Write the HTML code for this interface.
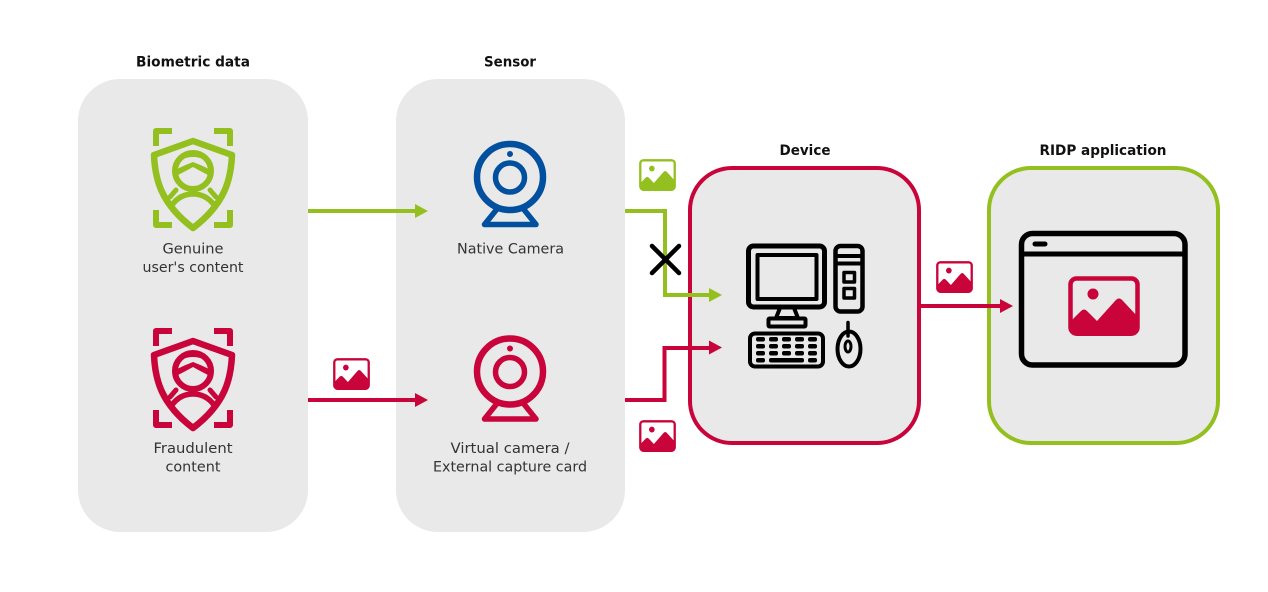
<!DOCTYPE html>
<html>
<head>
<meta charset="utf-8">
<style>
html,body{margin:0;padding:0;background:#fff;width:1268px;height:592px;overflow:hidden}
svg{display:block}
text{font-family:"DejaVu Sans",sans-serif;font-size:14.5px;fill:#333;text-anchor:middle}
text.b{font-weight:bold;fill:#111;font-size:14.5px}
</style>
</head>
<body>
<svg width="1268" height="592" viewBox="0 0 1268 592" xmlns="http://www.w3.org/2000/svg">
<defs>
<g id="shield" fill="none" stroke="currentColor" stroke-linejoin="round" stroke-linecap="round">
  <g stroke-width="6" stroke-linecap="butt" stroke-linejoin="round">
    <path d="M172 131H156V146"/><path d="M214 131H230V146"/>
    <path d="M156 210V225H172"/><path d="M230 210V225H214"/>
  </g>
  <path stroke-width="6.500" d="M193 141L154 155C155 178 160 203 193 228C226 203 231 178 232 155Z"/>
  <circle cx="193" cy="171" r="18" stroke-width="6"/>
  <path fill="currentColor" stroke="none" d="M178 175Q184 172 193 167Q202 172 208 175L209 169Q201 165 193 162Q185 165 177 169Z"/>
  <path stroke-width="4" stroke-linecap="butt" d="M180 158Q193 152 206 158"/>
  <path stroke-width="5.500" d="M172 205Q180 194 193 194Q206 194 214 205"/>
  <path stroke-width="5" d="M176 190L170 197M210 190L216 197"/>
</g>
<g id="cam" fill="none" stroke="currentColor">
  <circle cx="510" cy="177" r="33" stroke-width="6.500"/>
  <circle cx="510" cy="177.500" r="14.500" stroke-width="5.500"/>
  <circle cx="510" cy="154" r="3" fill="currentColor" stroke="none"/>
  <path stroke-width="5.500" stroke-linejoin="round" d="M497 209L484.500 224.500H536L523.500 209"/>
</g>
<g id="pic">
  <rect x="2.500" y="2.500" width="67" height="55" rx="6" fill="none" stroke="currentColor" stroke-width="4.500"/>
  <circle cx="25" cy="18" r="5.500" fill="currentColor"/>
  <path fill="currentColor" d="M3 45L13 35Q16 32 19 35L29 45L47 25Q51 20 55 25L70 41V52Q70 60 62 60H10Q2 60 2 52V46Z"/>
</g>
</defs>

<rect width="1268" height="592" fill="#fff"/>

<rect x="78" y="79" width="230" height="453" rx="42" fill="#e9e9e9"/>
<rect x="396" y="79" width="229" height="453" rx="42" fill="#e9e9e9"/>
<rect x="690" y="168" width="229" height="275" rx="42" fill="#e9e9e9" stroke="#c8043a" stroke-width="4"/>
<rect x="989" y="168" width="229" height="275" rx="42" fill="#e9e9e9" stroke="#93c01f" stroke-width="4"/>

<text class="b" x="193" y="66.500" textLength="114" lengthAdjust="spacingAndGlyphs">Biometric data</text>
<text class="b" x="510" y="66.500" textLength="52" lengthAdjust="spacingAndGlyphs">Sensor</text>
<text class="b" x="805" y="155" textLength="51" lengthAdjust="spacingAndGlyphs">Device</text>
<text class="b" x="1103" y="155" textLength="127" lengthAdjust="spacingAndGlyphs">RIDP application</text>

<use href="#shield" style="color:#93c01f"/>
<use href="#shield" y="200" style="color:#c8043a"/>
<use href="#cam" style="color:#00509f"/>
<use href="#cam" y="194.500" style="color:#c8043a"/>

<text x="193" y="253.500" textLength="61" lengthAdjust="spacingAndGlyphs">Genuine</text>
<text x="193" y="272" textLength="101" lengthAdjust="spacingAndGlyphs">user's content</text>
<text x="193" y="453" textLength="79" lengthAdjust="spacingAndGlyphs">Fraudulent</text>
<text x="193" y="471.500" textLength="55" lengthAdjust="spacingAndGlyphs">content</text>
<text x="510.500" y="253.500" textLength="107" lengthAdjust="spacingAndGlyphs">Native Camera</text>
<text x="510" y="453" textLength="119" lengthAdjust="spacingAndGlyphs">Virtual camera /</text>
<text x="510" y="471.500" textLength="154" lengthAdjust="spacingAndGlyphs">External capture card</text>

<!-- connectors -->
<g fill="none" stroke-width="4">
  <path stroke="#93c01f" d="M308 211H418"/>
  <path stroke="#c8043a" d="M308 400H418"/>
  <path stroke="#93c01f" d="M625 211H665V295H712"/>
  <path stroke="#c8043a" d="M625 400H664.500V348H712"/>
  <path stroke="#c8043a" d="M921 306H1003"/>
</g>
<path fill="#93c01f" d="M428 211L415 204V218Z"/>
<path fill="#c8043a" d="M428 400L415 393V407Z"/>
<path fill="#93c01f" d="M722 295L709 288V302Z"/>
<path fill="#c8043a" d="M722 347.500L709 340.500V354.500Z"/>
<path fill="#c8043a" d="M1013 306L1000 299V313Z"/>

<path d="M652 246L679 273M679 246L652 273" stroke="#000" stroke-width="4.500" stroke-linecap="round" fill="none"/>

<!-- small images -->
<use href="#pic" transform="translate(639 159) scale(.514 .533)" style="color:#93c01f"/>
<use href="#pic" transform="translate(333 358) scale(.514 .533)" style="color:#c8043a"/>
<use href="#pic" transform="translate(639 420) scale(.514 .533)" style="color:#c8043a"/>
<use href="#pic" transform="translate(936 261) scale(.514 .533)" style="color:#c8043a"/>

<!-- computer -->
<g fill="none" stroke="#000" stroke-linejoin="round">
  <rect x="748.500" y="246" width="76" height="61" rx="5" stroke-width="5"/>
  <rect x="757.500" y="255" width="59" height="44" stroke-width="4"/>
  <path stroke-width="4" d="M780 308L776 318H798L794 308"/>
  <rect x="768.500" y="318.500" width="37" height="8" rx="1" stroke-width="4"/>
  <rect x="835.500" y="246" width="27" height="65.500" rx="5" stroke-width="4.500"/>
  <path stroke-width="4" d="M836 256H862M836 263.500H862"/>
  <rect x="844" y="272.500" width="10.500" height="9.500" stroke-width="3.500"/>
  <rect x="844" y="288.500" width="10.500" height="9.500" stroke-width="3.500"/>
  <rect x="750" y="333.500" width="73" height="33" rx="5" stroke-width="4"/>
  <ellipse cx="849" cy="349" rx="11.500" ry="17.500" stroke-width="4"/>
  <ellipse cx="848" cy="346.500" rx="3" ry="5.500" stroke-width="3"/>
  <path stroke-width="3.500" stroke-linecap="round" d="M848 322.500V336"/>
</g>
<g fill="#000">
  <rect x="756" y="337" width="9" height="4.500" rx="2"/><rect x="769" y="337" width="9" height="4.500" rx="2"/><rect x="782" y="337" width="9" height="4.500" rx="2"/><rect x="795" y="337" width="9" height="4.500" rx="2"/><rect x="808" y="337" width="9" height="4.500" rx="2"/>
  <rect x="756" y="344" width="9" height="4.500" rx="2"/><rect x="769" y="344" width="9" height="4.500" rx="2"/><rect x="782" y="344" width="9" height="4.500" rx="2"/><rect x="795" y="344" width="9" height="4.500" rx="2"/><rect x="808" y="344" width="9" height="4.500" rx="2"/>
  <rect x="756" y="351" width="9" height="4.500" rx="2"/><rect x="769" y="351" width="9" height="4.500" rx="2"/><rect x="782" y="351" width="9" height="4.500" rx="2"/><rect x="795" y="351" width="9" height="4.500" rx="2"/><rect x="808" y="351" width="9" height="4.500" rx="2"/>
  <rect x="756" y="358" width="9" height="4.500" rx="2"/><rect x="769" y="358" width="35" height="4.500" rx="2"/><rect x="808" y="358" width="9" height="4.500" rx="2"/>
</g>

<!-- browser -->
<g fill="none" stroke="#000">
  <rect x="1021.500" y="233.500" width="163.500" height="131.500" rx="11" stroke-width="5.500"/>
  <path stroke-width="5" d="M1021 254H1185"/>
  <path stroke-width="5" stroke-linecap="round" d="M1035 244H1045"/>
</g>
<use href="#pic" transform="translate(1068 276)" style="color:#c8043a"/>
</svg>
</body>
</html>
